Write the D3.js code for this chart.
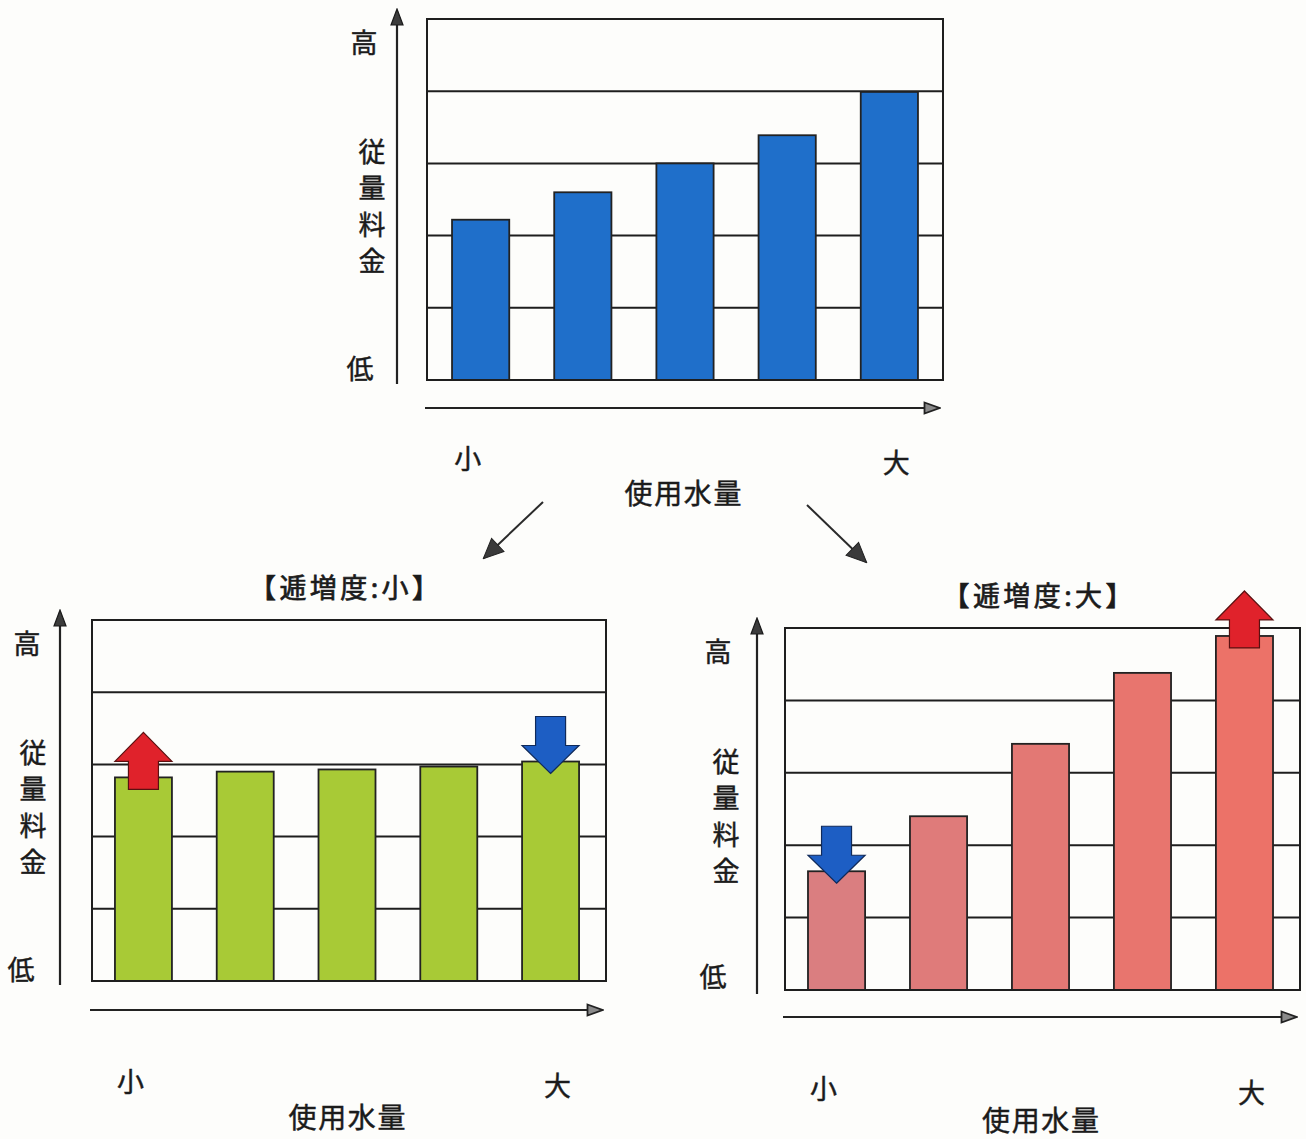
<!DOCTYPE html>
<html>
<head>
<meta charset="utf-8">
<script src="https://cdn.jsdelivr.net/npm/d3@7"></script>
<style>
  html, body { margin: 0; padding: 0; background: #fdfdfb; }
  svg { display: block; }
  text { font-family: "Noto Sans CJK JP", "Noto Sans", sans-serif; fill: #1b1b1b;
         stroke: #1b1b1b; stroke-width: 0.45; font-weight: 400; }
</style>
</head>
<body>
<svg id="chart" width="1306" height="1139"></svg>
<script>
// Usage volume steps (small -> large)
const usageSteps = ["1", "2", "3", "4", "5"];
// Volumetric charge per step, relative units (0 = low, 5 = high)
const baseCharges = [2.22, 2.6, 3.0, 3.39, 3.99];
const lowProgressionCharges = [2.82, 2.9, 2.93, 2.97, 3.04];
const highProgressionCharges = [1.64, 2.4, 3.4, 4.38, 4.89];
// Change markers: which step moves up or down versus the base tariff
const lowProgressionMarks = [{ step: "1", dir: "up" }, { step: "5", dir: "down" }];
const highProgressionMarks = [{ step: "1", dir: "down" }, { step: "5", dir: "up" }];
// Axis labels
const yEndLabels = ["低", "高"];
const xEndLabels = ["小", "大"];
const yAxisTitle = ["従", "量", "料", "金"];
const xAxisTitle = "使用水量";
const titles = ["【逓増度:小】", "【逓増度:大】"];
const gridTicks = [1, 2, 3, 4];

const svg = d3.select("#chart");
const defs = svg.append("defs");

defs.append("marker")
  .attr("id", "axisHead").attr("viewBox", "0 0 18 14")
  .attr("refX", 15).attr("refY", 7)
  .attr("markerWidth", 18).attr("markerHeight", 14)
  .attr("markerUnits", "userSpaceOnUse")
  .attr("orient", "auto")
  .append("path").attr("d", "M1,1 L17,7 L1,13 Z")
  .attr("fill", "#3c3c3c").attr("stroke", "#1a1a1a").attr("stroke-width", 1.2);

defs.append("marker")
  .attr("id", "xHead").attr("viewBox", "0 0 18 14")
  .attr("refX", 16).attr("refY", 7)
  .attr("markerWidth", 18).attr("markerHeight", 14)
  .attr("markerUnits", "userSpaceOnUse")
  .attr("orient", "auto")
  .append("path").attr("d", "M1.5,1.5 L16.5,7 L1.5,12.5 Z")
  .attr("fill", "#8a8a8a").attr("stroke", "#222").attr("stroke-width", 1.8);

defs.append("marker")
  .attr("id", "flowHead").attr("viewBox", "0 0 22 20")
  .attr("refX", 20).attr("refY", 10)
  .attr("markerWidth", 22).attr("markerHeight", 20)
  .attr("markerUnits", "userSpaceOnUse")
  .attr("orient", "auto")
  .append("path").attr("d", "M1,1 L21,10 L1,19 Z")
  .attr("fill", "#3a3a3a").attr("stroke", "#222").attr("stroke-width", 1);

function drawChart(cfg) {
  const g = svg.append("g");
  const x = d3.scaleBand().domain(usageSteps)
    .range([cfg.left, cfg.right]).paddingInner(0.44).paddingOuter(0.245).align(cfg.align);
  const y = d3.scaleLinear().domain([0, 5]).range([cfg.bottom, cfg.top]);

  // horizontal gridlines
  g.append("g").selectAll("line").data(gridTicks).join("line")
    .attr("x1", cfg.left).attr("x2", cfg.right)
    .attr("y1", d => y(d)).attr("y2", d => y(d))
    .attr("stroke", "#1e1e1e").attr("stroke-width", 2);

  // bars
  g.append("g").selectAll("rect").data(cfg.values).join("rect")
    .attr("x", (d, i) => x(usageSteps[i]))
    .attr("y", d => y(d))
    .attr("width", x.bandwidth())
    .attr("height", d => y(0) - y(d))
    .attr("fill", (d, i) => cfg.color(i))
    .attr("stroke", "#222").attr("stroke-width", 1.8);

  // frame
  g.append("rect")
    .attr("x", cfg.left).attr("y", cfg.top)
    .attr("width", cfg.right - cfg.left).attr("height", cfg.bottom - cfg.top)
    .attr("fill", "none").attr("stroke", "#1e1e1e").attr("stroke-width", 2);

  // change markers
  (cfg.marks || []).forEach(m => {
    const i = usageSteps.indexOf(m.step);
    const cx = x(m.step) + x.bandwidth() / 2;
    const top = y(cfg.values[i]);
    const hw = x.bandwidth() / 2, sw = 15;
    let tip, base, end;
    if (m.dir === "up") { tip = top - 45; base = top - 16; end = top + 12; }
    else { tip = top + 12; base = top - 16; end = top - 45; }
    const pts = [[cx, tip], [cx + hw, base], [cx + sw, base], [cx + sw, end],
                 [cx - sw, end], [cx - sw, base], [cx - hw, base]];
    g.append("polygon")
      .attr("points", pts.map(p => p.join(",")).join(" "))
      .attr("fill", m.dir === "up" ? "#e0222b" : "#1d5ec4")
      .attr("stroke", m.dir === "up" ? "#5a1010" : "#102a5a")
      .attr("stroke-width", 1.2);
  });

  // value axis (arrow up)
  g.append("line")
    .attr("x1", cfg.yAxisX).attr("y1", cfg.bottom + 4)
    .attr("x2", cfg.yAxisX).attr("y2", cfg.top - 8)
    .attr("stroke", "#222").attr("stroke-width", 2.2)
    .attr("marker-end", "url(#axisHead)");

  // usage axis (arrow right)
  g.append("line")
    .attr("x1", cfg.left - 2).attr("y1", cfg.xAxisY)
    .attr("x2", cfg.right - 4).attr("y2", cfg.xAxisY)
    .attr("stroke", "#222").attr("stroke-width", 2.2)
    .attr("marker-end", "url(#xHead)");

  const fs = 27;
  const label = (px, py, t) => g.append("text").attr("x", px).attr("y", py)
    .attr("text-anchor", "middle").attr("dominant-baseline", "central")
    .attr("font-size", fs).text(t);

  label(cfg.hiPos[0], cfg.hiPos[1], yEndLabels[1]);
  label(cfg.loPos[0], cfg.loPos[1], yEndLabels[0]);
  yAxisTitle.forEach((c, i) => label(cfg.titlePos[0], cfg.titlePos[1] + i * 36.5, c));

  label(x(usageSteps[0]) + x.bandwidth() / 2 - 13, cfg.xLabelY, xEndLabels[0]);
  label(x(usageSteps[4]) + x.bandwidth() / 2 + 7, cfg.xLabelY + 4, xEndLabels[1]);
  label((cfg.left + cfg.right) / 2 - 2, cfg.xTitleY, xAxisTitle)
    .attr("font-size", 28).attr("textLength", 117).attr("lengthAdjust", "spacing");

  if (cfg.title) {
    label((cfg.left + cfg.right) / 2 - 5, cfg.top - 34, cfg.title)
      .attr("font-size", 27).style("stroke-width", 0.7)
      .attr("textLength", 190).attr("lengthAdjust", "spacing");
  }
}

// current tariff
drawChart({
  left: 427, right: 943, top: 19, bottom: 380, align: 0.5,
  values: baseCharges, color: () => "#1f6fca",
  yAxisX: 397, xAxisY: 408,
  hiPos: [364, 41], loPos: [360, 367], titlePos: [372, 150],
  xLabelY: 457, xTitleY: 492
});

// low progression
drawChart({
  left: 92, right: 606, top: 620, bottom: 981, align: 0.46,
  values: lowProgressionCharges, color: () => "#a8ca36",
  marks: lowProgressionMarks,
  yAxisX: 60, xAxisY: 1010,
  hiPos: [27, 642], loPos: [21, 968], titlePos: [33, 751],
  xLabelY: 1080, xTitleY: 1116,
  title: titles[0]
});

// high progression
const redRamp = d3.interpolateRgb("#da7e80", "#ec7268");
drawChart({
  left: 785, right: 1300, top: 628, bottom: 990, align: 0.46,
  values: highProgressionCharges, color: i => redRamp(i / 4),
  marks: highProgressionMarks,
  yAxisX: 757, xAxisY: 1017,
  hiPos: [718, 650], loPos: [713, 975], titlePos: [726, 760],
  xLabelY: 1087, xTitleY: 1119,
  title: titles[1]
});

// flow arrows from the current tariff to the two variants
svg.append("line").attr("x1", 543).attr("y1", 502).attr("x2", 484).attr("y2", 558)
  .attr("stroke", "#2a2a2a").attr("stroke-width", 2).attr("marker-end", "url(#flowHead)");
svg.append("line").attr("x1", 807).attr("y1", 505).attr("x2", 866).attr("y2", 562)
  .attr("stroke", "#2a2a2a").attr("stroke-width", 2).attr("marker-end", "url(#flowHead)");
</script>
</body>
</html>
